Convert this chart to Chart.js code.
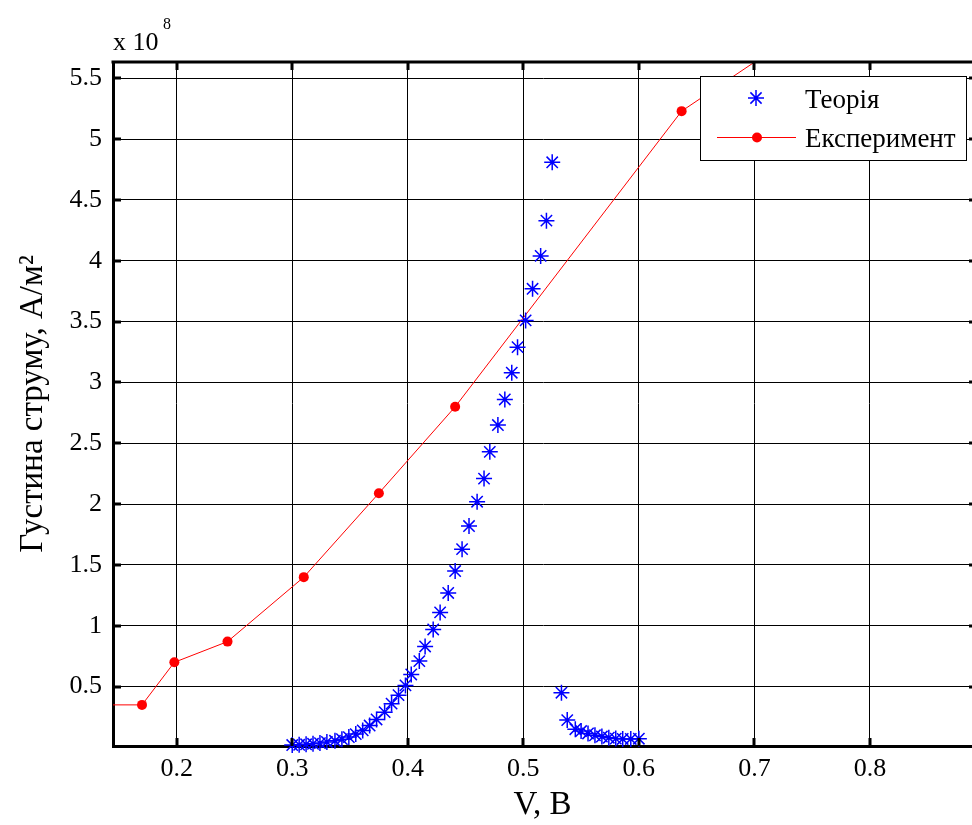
<!DOCTYPE html>
<html>
<head>
<meta charset="utf-8">
<title>Густина струму</title>
<script src="https://cdn.jsdelivr.net/npm/chart.js@4.4.1/dist/chart.umd.min.js"></script>
<style>
  html, body { margin: 0; padding: 0; background: #fff; }
  #wrap { width: 972px; height: 825px; }
</style>
</head>
<body>
<div id="wrap"><canvas id="chart" width="972" height="825"></canvas></div>
<script>
// Theory (stars), V and current density in units of 1e8 A/m^2
const theoryV = [
  0.300, 0.306, 0.312, 0.318, 0.324, 0.330, 0.337, 0.343, 0.349, 0.355, 0.361, 0.367, 0.373, 0.380, 0.386, 0.392,
  0.398, 0.403, 0.410, 0.415, 0.422, 0.428, 0.435, 0.441, 0.447, 0.453, 0.460, 0.466, 0.471, 0.478, 0.484, 0.490,
  0.495, 0.502, 0.508, 0.515, 0.520, 0.525,
  0.533, 0.538, 0.545, 0.550, 0.556, 0.562, 0.568, 0.574, 0.580, 0.586, 0.593, 0.600
];
const theoryJ = [
  0.020, 0.022, 0.026, 0.030, 0.036, 0.045, 0.055, 0.068, 0.085, 0.110, 0.140, 0.180, 0.230, 0.290, 0.360, 0.430,
  0.51, 0.60, 0.71, 0.83, 0.97, 1.11, 1.27, 1.45, 1.63, 1.82, 2.02, 2.21, 2.43, 2.65, 2.86, 3.08,
  3.29, 3.51, 3.77, 4.04, 4.33, 4.81,
  0.45, 0.225, 0.15, 0.135, 0.115, 0.10, 0.09, 0.08, 0.073, 0.07, 0.07, 0.072
];

// Experiment (red line with dots)
const expV = [0.120, 0.170, 0.198, 0.244, 0.310, 0.375, 0.441, 0.637, 0.770];
const expJ = [0.35, 0.35, 0.70, 0.87, 1.40, 2.09, 2.80, 5.23, 6.08];

const xTickValues = [0.2, 0.3, 0.4, 0.5, 0.6, 0.7, 0.8];
const yTickValues = [0.5, 1, 1.5, 2, 2.5, 3, 3.5, 4, 4.5, 5, 5.5];

const seriesNames = ["Теорія", "Експеримент"];

const FONT = "'Liberation Serif', 'Times New Roman', serif";

// axis box on top + inward tick marks + legend + exponent label
const decorPlugin = {
  id: "decor",
  afterDatasetsDraw(chart) {
    const ctx = chart.ctx;
    const area = chart.chartArea;
    const xs = chart.scales.x;
    const ys = chart.scales.y;
    ctx.save();
    ctx.strokeStyle = "#000";
    ctx.lineWidth = 3;
    ctx.beginPath();
    ctx.moveTo(area.left - 1.5, area.top);
    ctx.lineTo(area.right, area.top);
    xTickValues.forEach((v) => {
      const px = Math.round(xs.getPixelForValue(v));
      ctx.moveTo(px, area.bottom);
      ctx.lineTo(px, area.bottom - 8);
      ctx.moveTo(px, area.top);
      ctx.lineTo(px, area.top + 8);
    });
    yTickValues.forEach((v) => {
      const py = Math.round(ys.getPixelForValue(v));
      ctx.moveTo(area.left, py);
      ctx.lineTo(area.left + 8, py);
      ctx.moveTo(area.right, py);
      ctx.lineTo(area.right - 3, py);
    });
    ctx.stroke();
    ctx.restore();
  },
  afterDraw(chart) {
    const ctx = chart.ctx;
    const area = chart.chartArea;
    ctx.save();

    // x 10^8
    ctx.fillStyle = "#000";
    ctx.textBaseline = "alphabetic";
    ctx.textAlign = "left";
    ctx.font = "26px " + FONT;
    ctx.fillText("x 10", area.left, 50);
    ctx.font = "16px " + FONT;
    ctx.fillText("8", 163, 29);

    // legend box
    const lx = 700, ly = 76, lw = 266, lh = 84;
    ctx.fillStyle = "#fff";
    ctx.fillRect(lx, ly, lw, lh);
    ctx.strokeStyle = "#000";
    ctx.lineWidth = 1;
    ctx.strokeRect(lx + 0.5, ly + 0.5, lw, lh);

    // star marker
    const sx = 756, sy = 98, r = 8;
    ctx.strokeStyle = "#0000ff";
    ctx.lineWidth = 1.5;
    ctx.beginPath();
    ctx.moveTo(sx - r, sy); ctx.lineTo(sx + r, sy);
    ctx.moveTo(sx, sy - r); ctx.lineTo(sx, sy + r);
    const d = r * 0.7;
    ctx.moveTo(sx - d, sy - d); ctx.lineTo(sx + d, sy + d);
    ctx.moveTo(sx - d, sy + d); ctx.lineTo(sx + d, sy - d);
    ctx.stroke();

    // red line + dot
    ctx.strokeStyle = "#ff0000";
    ctx.lineWidth = 1;
    ctx.beginPath();
    ctx.moveTo(717, 137.5);
    ctx.lineTo(796, 137.5);
    ctx.stroke();
    ctx.fillStyle = "#ff0000";
    ctx.beginPath();
    ctx.arc(757, 137.5, 5, 0, Math.PI * 2);
    ctx.fill();

    ctx.fillStyle = "#000";
    ctx.font = "27px " + FONT;
    ctx.fillText(seriesNames[0], 805, 108);
    ctx.fillText(seriesNames[1], 805, 147);
    ctx.restore();
  }
};

const ctx = document.getElementById("chart").getContext("2d");
const chart = new Chart(ctx, {
  type: "scatter",
  data: {
    datasets: [
      {
        label: seriesNames[0],
        data: theoryV.map((v, i) => ({ x: v, y: theoryJ[i] })),
        showLine: false,
        pointStyle: "star",
        pointRadius: 8,
        pointBorderWidth: 1.5,
        borderColor: "#0000ff",
        backgroundColor: "#0000ff",
        clip: false,
      },
      {
        label: seriesNames[1],
        data: expV.map((v, i) => ({ x: v, y: expJ[i] })),
        showLine: true,
        borderColor: "#ff0000",
        backgroundColor: "#ff0000",
        borderWidth: 1,
        pointRadius: 5,
        pointBorderWidth: 0,
        pointStyle: "circle",
      },
    ],
  },
  options: {
    responsive: false,
    animation: false,
    devicePixelRatio: 1,
    layout: { autoPadding: false, padding: { top: 62, left: 0, right: 0, bottom: 0 } },
    plugins: {
      legend: { display: false },
      tooltip: { enabled: false },
    },
    scales: {
      x: {
        type: "linear",
        min: 0.1449,
        max: 0.8883,
        afterFit: (scale) => { scale.height = 79; },
        afterBuildTicks: (scale) => { scale.ticks = xTickValues.map((v) => ({ value: v })); },
        grid: { color: "#000", lineWidth: 1, drawTicks: false },
        border: { display: true, color: "#000", width: 3 },
        ticks: {
          padding: 8,
          color: "#000",
          font: { family: FONT, size: 26 },
          callback: (v) => Number(v).toFixed(1),
        },
        title: {
          display: true,
          text: "V, B",
          color: "#000",
          font: { family: FONT, size: 33 },
          padding: { top: 0, bottom: 0 },
        },
      },
      y: {
        type: "linear",
        min: 0.012,
        max: 5.634,
        afterFit: (scale) => { scale.width = 113; },
        afterBuildTicks: (scale) => { scale.ticks = yTickValues.map((v) => ({ value: v })); },
        grid: { color: "#000", lineWidth: 1, drawTicks: false },
        border: { display: true, color: "#000", width: 3 },
        ticks: {
          padding: 11,
          color: "#000",
          font: { family: FONT, size: 26 },
          callback: (v) => String(Math.round(v * 10) / 10),
        },
        title: {
          display: true,
          text: "Густина струму, А/м²",
          color: "#000",
          font: { family: FONT, size: 33 },
          padding: { top: 14, bottom: 0 },
        },
      },
    },
  },
  plugins: [decorPlugin],
});
</script>
</body>
</html>
